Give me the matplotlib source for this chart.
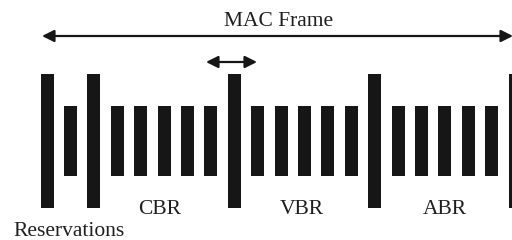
import matplotlib.pyplot as plt
from matplotlib.patches import FancyArrowPatch

# slot sequence of the MAC frame: 'R' = reservation (tall), 'S' = data slot (short)
slots = ['R', 'S', 'R', 'S', 'S', 'S', 'S', 'S', 'R', 'S', 'S', 'S', 'S', 'S',
         'R', 'S', 'S', 'S', 'S', 'S', 'R']
slot_heights = {'R': 1.0, 'S': 0.515}
section_labels = ['CBR', 'VBR', 'ABR']
section_slots = [4.8, 10.9, 17.0]   # slot index under each label
frame_label = 'MAC Frame'
res_label = 'Reservations'

W, H = 512, 240
pitch = 23.4       # pixels per slot
x0 = 47            # centre of first slot, px
yc = 141           # centre line of the bars, px from top
unit = 134         # px for height 1.0
bar_w = 13

fig = plt.figure(figsize=(W / 100, H / 100), dpi=100)
ax = fig.add_axes([0, 0, 1, 1])
ax.set_xlim(0, W)
ax.set_ylim(H, 0)
ax.axis('off')

xs = [x0 + i * pitch for i in range(len(slots))]
hs = [slot_heights[k] * unit for k in slots]
ax.bar(xs, hs, width=bar_w, bottom=[yc - h / 2 for h in hs], color='#161616')

font = dict(family='Liberation Serif', fontsize=15.5, color='#1e1e1e')

# whole frame arrow
ax.add_patch(FancyArrowPatch((42, 36), (513, 36), arrowstyle='<|-|>',
                             mutation_scale=18, lw=1.6, color='#161616',
                             shrinkA=0, shrinkB=0))
ax.text(279, 21, frame_label, ha='center', va='center', **font)

# one slot arrow
ax.add_patch(FancyArrowPatch((206, 62), (257, 62), arrowstyle='<|-|>',
                             mutation_scale=18, lw=1.6, color='#161616',
                             shrinkA=0, shrinkB=0))

for lab, s in zip(section_labels, section_slots):
    ax.text(x0 + s * pitch, 209, lab, ha='center', va='center', **font)
ax.text(13, 231, res_label, ha='left', va='center', **font)

fig.savefig('out.png', dpi=100)
